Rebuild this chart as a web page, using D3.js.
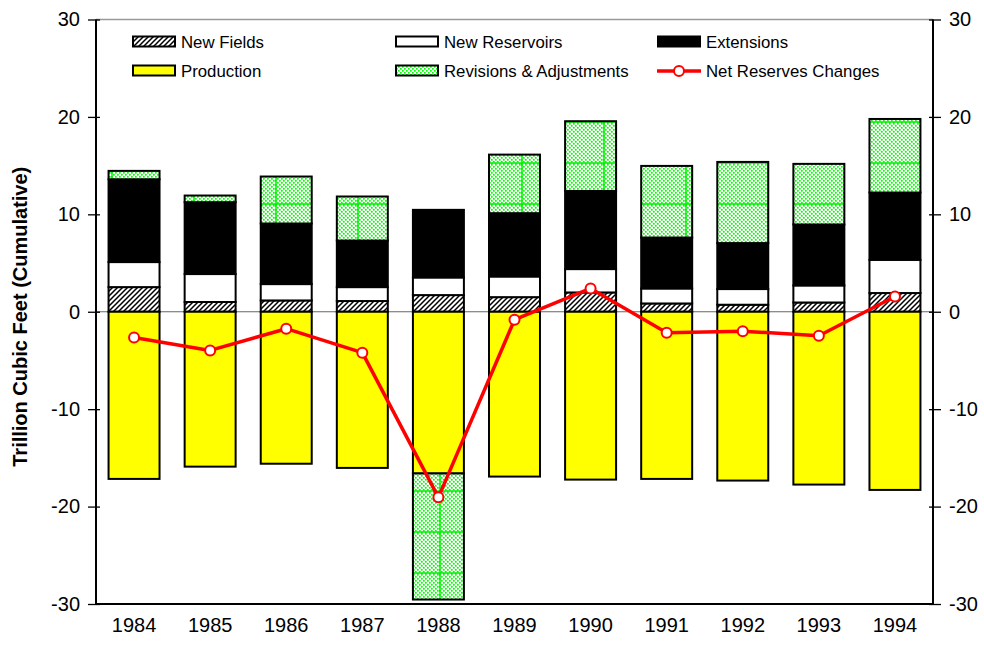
<!DOCTYPE html>
<html>
<head>
<meta charset="utf-8">
<script src="https://cdn.jsdelivr.net/npm/d3@7"></script>
<style>
  html, body { margin: 0; padding: 0; background: #fff; }
  svg { display: block; font-family: Arial, "Liberation Sans", sans-serif; }
</style>
</head>
<body>
<svg id="chart" width="984" height="648"></svg>
<script>
const years = ["1984","1985","1986","1987","1988","1989","1990","1991","1992","1993","1994"];
const newFields     = [2.53, 1.0, 1.16, 1.1, 1.71, 1.5, 1.98, 0.85, 0.72, 0.95, 1.92];
const newReservoirs = [2.57, 2.87, 1.68, 1.43, 1.81, 2.12, 2.4, 1.54, 1.61, 1.75, 3.41];
const extensions    = [8.5, 7.38, 6.22, 4.78, 6.94, 6.5, 8.02, 5.23, 4.72, 6.26, 6.91];
const revisions     = [0.86, 0.68, 4.82, 4.52, -12.94, 6.01, 7.16, 7.35, 8.33, 6.22, 7.55];
const production    = [-17.16, -15.9, -15.6, -16.03, -16.6, -16.92, -17.23, -17.16, -17.33, -17.74, -18.29];
const netChanges    = [-2.65, -3.97, -1.74, -4.2, -19.05, -0.82, 2.39, -2.15, -2.0, -2.46, 1.57];
const yTicks = [-30, -20, -10, 0, 10, 20, 30];
const seriesNames = ["New Fields", "New Reservoirs", "Extensions", "Production", "Revisions & Adjustments", "Net Reserves Changes"];

const svg = d3.select("#chart");
const pLeft = 96, pRight = 933, pTop = 19.5, pBottom = 604;

const x = d3.scaleBand().domain(years).range([pLeft, pRight]).paddingInner(0.33).paddingOuter(0.165);
const y = d3.scaleLinear().domain([-30, 30]).range([pBottom, pTop]);

// patterns
const defs = svg.append("defs");
const hatch = defs.append("pattern").attr("id", "hatch").attr("patternUnits", "userSpaceOnUse")
  .attr("width", 5).attr("height", 5);
hatch.append("rect").attr("width", 5).attr("height", 5).attr("fill", "#fff");
hatch.append("path").attr("d", "M-1,6 L6,-1 M-2,2 L2,-2 M3,7 L7,3").attr("stroke", "#000").attr("stroke-width", 1.5);

const dots = defs.append("pattern").attr("id", "dots").attr("patternUnits", "userSpaceOnUse")
  .attr("width", 4).attr("height", 4);
dots.append("rect").attr("width", 4).attr("height", 4).attr("fill", "#fff");
dots.append("rect").attr("x", 0).attr("y", 0).attr("width", 1.7).attr("height", 1.7).attr("fill", "#00ff00");
dots.append("rect").attr("x", 2).attr("y", 2).attr("width", 1.7).attr("height", 1.7).attr("fill", "#00ff00");

const dotsBig = defs.append("pattern").attr("id", "dotsBig").attr("patternUnits", "userSpaceOnUse")
  .attr("width", 82).attr("height", 41).attr("x", 29).attr("y", 0);
dotsBig.append("rect").attr("width", 82).attr("height", 41).attr("fill", "url(#dots)");
dotsBig.append("line").attr("x1", 0).attr("x2", 82).attr("y1", 40).attr("y2", 40).attr("stroke", "#00ee00").attr("stroke-width", 1.5);
dotsBig.append("line").attr("x1", 1).attr("x2", 1).attr("y1", 0).attr("y2", 41).attr("stroke", "#00ee00").attr("stroke-width", 1.5);

const fills = {
  newFields: "url(#hatch)",
  newReservoirs: "#ffffff",
  extensions: "#000000",
  production: "#ffff00",
  revisions: "url(#dotsBig)"
};

const table = years.map((yr, i) => ({
  year: yr,
  newFields: newFields[i],
  newReservoirs: newReservoirs[i],
  extensions: extensions[i],
  production: production[i],
  revisions: revisions[i]
}));

const keys = ["newFields", "newReservoirs", "extensions", "production", "revisions"];
const stacked = d3.stack().keys(keys).offset(d3.stackOffsetDiverging)(table);

// zero line
svg.append("line").attr("x1", pLeft).attr("x2", pRight).attr("y1", y(0)).attr("y2", y(0))
  .attr("stroke", "#666").attr("stroke-width", 1.2);

// bars
stacked.forEach(s => {
  svg.append("g").selectAll("rect").data(s).join("rect")
    .attr("x", d => x(d.data.year))
    .attr("width", x.bandwidth())
    .attr("y", d => y(Math.max(d[0], d[1])))
    .attr("height", d => Math.abs(y(d[0]) - y(d[1])))
    .attr("fill", fills[s.key])
    .attr("stroke", "#000")
    .attr("stroke-width", 2);
});

// frame
svg.append("line").attr("x1", pLeft).attr("x2", pRight).attr("y1", pTop).attr("y2", pTop).attr("stroke", "#999").attr("stroke-width", 1.5);
svg.append("line").attr("x1", pLeft).attr("x2", pRight).attr("y1", pBottom).attr("y2", pBottom).attr("stroke", "#000").attr("stroke-width", 2);

// axes
const fmt = d => String(d);
const yAxisL = d3.axisLeft(y).tickValues(yTicks).tickSize(8).tickPadding(8).tickFormat(fmt);
const gL = svg.append("g").attr("transform", `translate(${pLeft},0)`).call(yAxisL);
const yAxisR = d3.axisRight(y).tickValues(yTicks).tickSize(8).tickPadding(8).tickFormat(fmt);
const gR = svg.append("g").attr("transform", `translate(${pRight},0)`).call(yAxisR);
[gL, gR].forEach(g => {
  g.select(".domain").attr("stroke", "#000").attr("stroke-width", 2).attr("d", `M0,${pTop}V${pBottom}`);
  g.selectAll(".tick line").attr("stroke", "#000").attr("stroke-width", 1.3);
  g.selectAll(".tick text").attr("font-size", 20).attr("fill", "#000").attr("font-family", "Arial, 'Liberation Sans', sans-serif");
});
gL.selectAll(".tick line").attr("x1", 4);
gR.selectAll(".tick line").attr("x1", -4);

// x axis labels
const xAxis = d3.axisBottom(x).tickSize(0).tickPadding(14);
const gX = svg.append("g").attr("transform", `translate(0,${pBottom})`).call(xAxis);
gX.select(".domain").remove();
gX.selectAll(".tick text").attr("font-size", 20).attr("fill", "#000").attr("font-family", "Arial, 'Liberation Sans', sans-serif");

// y title
svg.append("text")
  .attr("transform", `translate(27,${(pTop + pBottom) / 2 + 5}) rotate(-90)`)
  .attr("text-anchor", "middle")
  .attr("font-size", 20).attr("font-weight", "bold")
  .text("Trillion Cubic Feet (Cumulative)");

// net line
const line = d3.line().x((d, i) => x(years[i]) + x.bandwidth() / 2).y(d => y(d));
svg.append("path").datum(netChanges).attr("d", line).attr("fill", "none")
  .attr("stroke", "#ff0000").attr("stroke-width", 3.5).attr("stroke-linejoin", "round");
svg.append("g").selectAll("circle").data(netChanges).join("circle")
  .attr("cx", (d, i) => x(years[i]) + x.bandwidth() / 2)
  .attr("cy", d => y(d))
  .attr("r", 5)
  .attr("fill", "#fff").attr("stroke", "#ff0000").attr("stroke-width", 2);

// legend
const legendItems = [
  { name: seriesNames[0], fill: "url(#hatch)", col: 0, row: 0 },
  { name: seriesNames[1], fill: "#fff", col: 1, row: 0 },
  { name: seriesNames[2], fill: "#000", col: 2, row: 0 },
  { name: seriesNames[3], fill: "#ffff00", col: 0, row: 1 },
  { name: seriesNames[4], fill: "url(#dots)", col: 1, row: 1 },
  { name: seriesNames[5], line: true, col: 2, row: 1 }
];
const colX = [133, 396, 658];
const rowY = [42, 71];
const lg = svg.append("g");
legendItems.forEach(it => {
  const gx = colX[it.col], gy = rowY[it.row];
  if (it.line) {
    lg.append("line").attr("x1", gx - 1).attr("x2", gx + 43).attr("y1", gy).attr("y2", gy)
      .attr("stroke", "#ff0000").attr("stroke-width", 3.5);
    lg.append("circle").attr("cx", gx + 21).attr("cy", gy).attr("r", 5)
      .attr("fill", "#fff").attr("stroke", "#ff0000").attr("stroke-width", 2);
  } else {
    lg.append("rect").attr("x", gx).attr("y", gy - 5.5).attr("width", 42).attr("height", 10)
      .attr("fill", it.fill).attr("stroke", "#000").attr("stroke-width", 2);
  }
  lg.append("text").attr("x", gx + 48).attr("y", gy + 6).attr("font-size", 16.8).attr("fill", "#000")
    .text(it.name);
});
</script>
</body>
</html>
